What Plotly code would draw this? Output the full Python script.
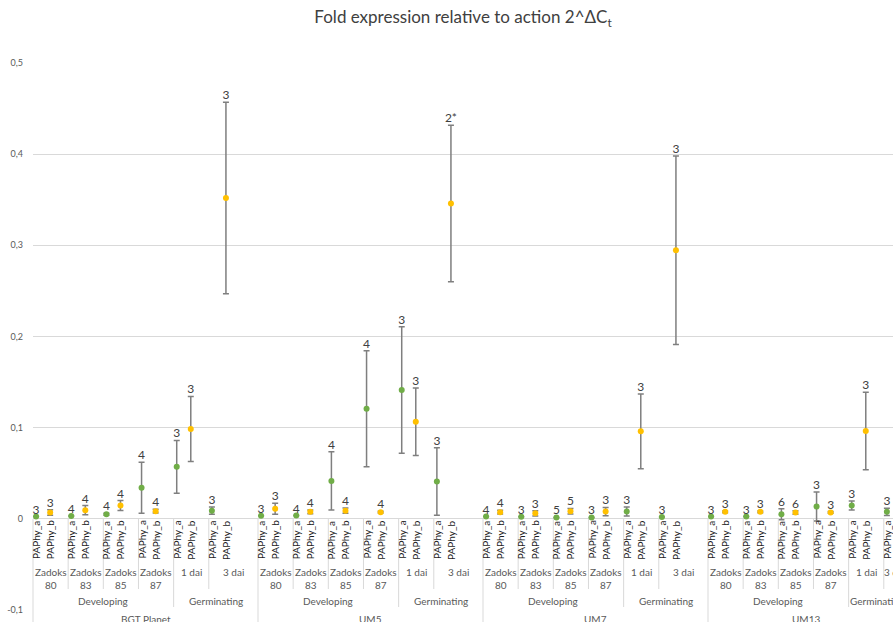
import plotly.graph_objects as go

# ---------------- data ----------------
cultivars = ["BGT Planet", "UM5", "UM7", "UM13"]
phases = ["Developing", "Germinating"]
stages = ["Zadoks<br>80", "Zadoks<br>83", "Zadoks<br>85", "Zadoks<br>87", "1 dai", "3 dai"]
stage_phase = [0, 0, 0, 0, 1, 1]
genes = ["PAPhy_a", "PAPhy_b"]

# PAPhy_a (per cultivar, stages in order above)
a_bgt = [0.0025, 0.003, 0.005, 0.034, 0.057, 0.009]
a_bgt_err = [0.0, 0.0, 0.001, 0.028, 0.029, 0.004]
a_bgt_n = ["3", "4", "4", "4", "3", "3"]
a_um5 = [0.0033, 0.0036, 0.0416, 0.1208, 0.1413, 0.0409]
a_um5_err = [0.0, 0.0, 0.032, 0.0636, 0.0693, 0.037]
a_um5_n = ["3", "4", "4", "4", "3", "3"]
a_um7 = [0.0025, 0.0022, 0.0015, 0.0015, 0.008, 0.002]
a_um7_err = [0.0, 0.0, 0.0, 0.0, 0.005, 0.0]
a_um7_n = ["4", "3", "5", "3", "3", "3"]
a_um13 = [0.0025, 0.0025, 0.005, 0.0135, 0.0146, 0.0077]
a_um13_err = [0.0, 0.0, 0.006, 0.016, 0.005, 0.004]
a_um13_n = ["3", "3", "6", "3", "3", "3"]

# PAPhy_b
b_bgt = [0.007, 0.0095, 0.0146, 0.0084, 0.0986, 0.352]
b_bgt_err = [0.003, 0.005, 0.0055, 0.002, 0.0356, 0.105]
b_bgt_n = ["3", "4", "4", "4", "3", "3"]
b_um5 = [0.011, 0.0077, 0.009, 0.0073, 0.1066, 0.3458]
b_um5_err = [0.006, 0.002, 0.003, 0.001, 0.037, 0.0858]
b_um5_n = ["3", "4", "4", "4", "3", "2*"]
b_um7 = [0.0073, 0.006, 0.0084, 0.008, 0.096, 0.2946]
b_um7_err = [0.002, 0.003, 0.003, 0.0045, 0.041, 0.1035]
b_um7_n = ["4", "3", "5", "3", "3", "3"]
b_um13 = [0.0077, 0.0077, 0.007, 0.007, 0.0964, None]
b_um13_err = [0.001, 0.001, 0.002, 0.001, 0.0425, None]
b_um13_n = ["3", "3", "6", "3", "3", None]

y_tickvals = [-0.1, 0, 0.1, 0.2, 0.3, 0.4, 0.5]
y_ticktext = ["-0,1", "0", "0,1", "0,2", "0,3", "0,4", "0,5"]

# ---------------- layout geometry (category axis drawn manually) ----------------
W, H = 893, 622
ML, MR, MT, MB = 33, 0, 63, 12
PLOT_W = W - ML - MR
PLOT_H = H - MT - MB
CELL_W = [2.5, 2.5, 2.5, 2.5, 2.5, 1.5]      # width of each stage cell (axis units)
GAP = 2.0                                     # blank slots after a cultivar block
GROUP_W = sum(CELL_W)
GROUP_STEP = GROUP_W + GAP
UNIT_PX = 225 / GROUP_STEP
X_MAX = PLOT_W / UNIT_PX
OFFS = [0.22, 1.22]                           # PAPhy_a / PAPhy_b offset inside a cell
Y0, Y1 = -0.1, 0.5
NC = len(cultivars)

cell_start = []
acc = 0
for w in CELL_W:
    cell_start.append(acc)
    acc += w

def cell_width(ci, si):
    w = CELL_W[si]
    if si == len(CELL_W) - 1 and ci < NC - 1:
        w += GAP
    return w

def xpos(ci, si, gi):
    return ci * GROUP_STEP + cell_start[si] + OFFS[gi]

def px_to_paper_y(ypx):
    return (H - MB - ypx) / PLOT_H

def ux(u):
    return u / X_MAX

A_vals = [a_bgt, a_um5, a_um7, a_um13]
A_errs = [a_bgt_err, a_um5_err, a_um7_err, a_um13_err]
A_ns = [a_bgt_n, a_um5_n, a_um7_n, a_um13_n]
B_vals = [b_bgt, b_um5, b_um7, b_um13]
B_errs = [b_bgt_err, b_um5_err, b_um7_err, b_um13_err]
B_ns = [b_bgt_n, b_um5_n, b_um7_n, b_um13_n]

GREEN = "#70AD47"
GOLD = "#FFC000"
ERRC = "#7F7F7F"
FONT = "Lato"

fig = go.Figure()

for gi, (vals, errs, ns, col) in enumerate([(A_vals, A_errs, A_ns, GREEN), (B_vals, B_errs, B_ns, GOLD)]):
    xs, ys, es, lab_y, lab_t = [], [], [], [], []
    for ci in range(NC):
        for si in range(len(stages)):
            v = vals[ci][si]
            if v is None:
                continue
            e = errs[ci][si]
            xs.append(xpos(ci, si, gi))
            ys.append(v)
            es.append(e)
            lab_y.append(v + e)
            lab_t.append(ns[ci][si])
    fig.add_trace(go.Scatter(
        x=xs, y=ys, mode="markers", name=genes[gi],
        marker=dict(color=col, size=6),
        error_y=dict(type="data", array=es, visible=True, color=ERRC, thickness=1.5, width=3),
        showlegend=False, cliponaxis=False))
    fig.add_trace(go.Scatter(
        x=xs, y=lab_y, mode="text", text=lab_t, textposition="top center",
        textfont=dict(family=FONT, size=12, color="#404040"),
        showlegend=False, hoverinfo="skip", cliponaxis=False))

shapes = []
annots = []
LINE = dict(color="#D9D9D9", width=1)
y_zero = px_to_paper_y(519)
y_stage_end = px_to_paper_y(589)
y_phase_end = px_to_paper_y(607)
y_bottom = px_to_paper_y(640)

for ci, cname in enumerate(cultivars):
    base = ci * GROUP_STEP
    shapes.append(dict(type="line", xref="paper", yref="paper", x0=ux(base), x1=ux(base),
                       y0=y_zero, y1=y_bottom, line=LINE))
    for si, sname in enumerate(stages):
        s0 = base + cell_start[si]
        s1 = s0 + cell_width(ci, si)
        if si > 0:
            end = y_phase_end if stage_phase[si] != stage_phase[si - 1] else y_stage_end
            shapes.append(dict(type="line", xref="paper", yref="paper", x0=ux(s0), x1=ux(s0),
                               y0=y_zero, y1=end, line=LINE))
        annots.append(dict(x=ux((s0 + s1) / 2), y=px_to_paper_y(578 if "<br>" in sname else 572),
                           xref="paper", yref="paper", text=sname, showarrow=False,
                           font=dict(family=FONT, size=10, color="#595959"),
                           xanchor="center", yanchor="middle"))
        for gi, g in enumerate(genes):
            annots.append(dict(x=ux(xpos(ci, si, gi)), y=px_to_paper_y(540), xref="paper", yref="paper",
                               text=g, textangle=-90, showarrow=False,
                               font=dict(family=FONT, size=10, color="#1a1a1a"),
                               xanchor="center", yanchor="middle"))
    for pi, pname in enumerate(phases):
        idx = [i for i, p in enumerate(stage_phase) if p == pi]
        p0 = base + cell_start[idx[0]]
        p1 = base + cell_start[idx[-1]] + cell_width(ci, idx[-1])
        annots.append(dict(x=ux((p0 + p1) / 2), y=px_to_paper_y(601), xref="paper", yref="paper",
                           text=pname, showarrow=False,
                           font=dict(family=FONT, size=10, color="#595959"),
                           xanchor="center", yanchor="middle"))
    block_end = base + GROUP_W + (GAP if ci < NC - 1 else 0)
    annots.append(dict(x=ux((base + block_end) / 2), y=px_to_paper_y(619), xref="paper", yref="paper",
                       text=cname, showarrow=False,
                       font=dict(family=FONT, size=10, color="#595959"),
                       xanchor="center", yanchor="middle"))

fig.update_layout(
    width=W, height=H,
    margin=dict(l=ML, r=MR, t=MT, b=MB, autoexpand=False),
    paper_bgcolor="white", plot_bgcolor="white",
    title=dict(text="Fold expression relative to action 2^ΔC<sub>t</sub>",
               x=463 / W, xref="container", xanchor="center",
               y=1 - 17 / H, yref="container", yanchor="middle",
               font=dict(family=FONT, size=17, color="#404040")),
    xaxis=dict(range=[0, X_MAX], showgrid=False, zeroline=False, showticklabels=False,
               showline=False, ticks=""),
    yaxis=dict(range=[Y0, Y1], tickvals=y_tickvals, ticktext=y_ticktext,
               showgrid=True, gridcolor="#D9D9D9", gridwidth=1,
               zeroline=True, zerolinecolor="#D9D9D9", zerolinewidth=1,
               showline=False, ticks="", ticklabelstandoff=9,
               tickfont=dict(family=FONT, size=9, color="#595959")),
    shapes=shapes, annotations=annots, showlegend=False,
)

fig.write_html("out.html", config={"displayModeBar": False},
               post_script="document.body.style.margin='0px';")
